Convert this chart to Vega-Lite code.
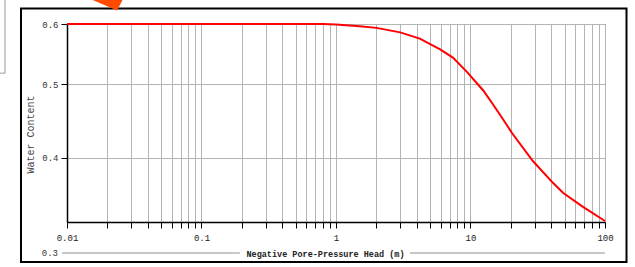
{
  "$schema": "https://vega.github.io/schema/vega-lite/v6.json",
  "width": 538,
  "height": 198,
  "autosize": "none",
  "padding": {"left": 67, "top": 24, "right": 30, "bottom": 45},
  "background": "white",
  "config": {
    "view": {"stroke": "#808080", "strokeWidth": 1},
    "font": "Liberation Mono"
  },
  "datasets": {
    "curve": [
      {"h": 0.01, "wc": 0.6},
      {"h": 0.8, "wc": 0.6},
      {"h": 1.0, "wc": 0.599},
      {"h": 1.5, "wc": 0.596},
      {"h": 2.0, "wc": 0.593},
      {"h": 3.0, "wc": 0.585},
      {"h": 4.2, "wc": 0.574},
      {"h": 5.9, "wc": 0.556},
      {"h": 7.4, "wc": 0.542},
      {"h": 9.4, "wc": 0.519},
      {"h": 12.4, "wc": 0.491},
      {"h": 14.5, "wc": 0.472},
      {"h": 17.4, "wc": 0.450},
      {"h": 20.4, "wc": 0.431},
      {"h": 29.2, "wc": 0.396},
      {"h": 41.0, "wc": 0.371},
      {"h": 48.7, "wc": 0.360},
      {"h": 68.6, "wc": 0.345},
      {"h": 100, "wc": 0.3305}
    ],
    "seg03": [
      {"h": 0.0092, "h2": 0.193, "wc": 0.3},
      {"h": 3.55, "h2": 100, "wc": 0.3}
    ],
    "lbl03": [{"h": 0.01, "wc": 0.3, "t": "0.3"}],
    "frame": [{"h": 0.00455, "h2": 144.5, "wc": 0.6288, "wc2": 0.292}],
    "arrow": [{"h": 0.0209, "wc": 0.6374}],
    "boxv": [{"h": 0.00346, "wc": 0.517, "wc2": 0.66}],
    "boxh": [{"h": 0.0025, "h2": 0.00346, "wc": 0.517}]
  },
  "encoding": {
    "x": {
      "field": "h",
      "type": "quantitative",
      "scale": {"type": "log", "domain": [0.01, 100], "nice": false},
      "axis": {
        "values": [0.01,0.02,0.03,0.04,0.05,0.06,0.07,0.08,0.09,0.1,0.2,0.3,0.4,0.5,0.6,0.7,0.8,0.9,1,2,3,4,5,6,7,8,9,10,20,30,40,50,60,70,80,90,100],
        "labelExpr": "indexof([0.01,0.1,1,10,100], datum.value) >= 0 ? format(datum.value, '~g') : ''",
        "labelOverlap": false,
        "labelFlush": false,
        "labelFont": "Liberation Mono",
        "labelFontSize": 9,
        "labelColor": "#222",
        "labelPadding": 5,
        "grid": true,
        "gridColor": "#b4b4b4",
        "gridWidth": 1,
        "domainColor": "#000000",
        "domainWidth": 1.5,
        "tickColor": "#000000",
        "tickSize": 6,
        "title": "Negative Pore-Pressure Head (m)",
        "titleFont": "Liberation Mono",
        "titleFontSize": 8.5,
        "titleFontWeight": "bold",
        "titleColor": "#222",
        "titleX": 258,
        "titleY": 27
      }
    },
    "y": {
      "field": "wc",
      "type": "quantitative",
      "scale": {"type": "log", "domain": [0.3295, 0.6], "nice": false, "zero": false},
      "axis": {
        "values": [0.4, 0.5, 0.6],
        "format": ".1f",
        "labelFont": "Liberation Mono",
        "labelFontSize": 9,
        "labelColor": "#333",
        "labelPadding": 3,
        "grid": true,
        "gridColor": "#b4b4b4",
        "domainColor": "#000000",
        "domainWidth": 1.5,
        "tickColor": "#000000",
        "tickSize": 6,
        "title": "Water Content",
        "titleFont": "Liberation Mono",
        "titleFontSize": 10,
        "titleFontWeight": "normal",
        "titleColor": "#444",
        "titleX": -32,
        "titleY": 110
      }
    }
  },
  "layer": [
    {
      "data": {"name": "curve"},
      "mark": {"type": "line", "color": "#ff0000", "strokeWidth": 2, "clip": false}
    },
    {
      "data": {"name": "seg03"},
      "mark": {"type": "rule", "color": "#b4b4b4", "strokeWidth": 1.5, "clip": false},
      "encoding": {"x2": {"field": "h2"}}
    },
    {
      "data": {"name": "lbl03"},
      "mark": {"type": "text", "align": "right", "baseline": "middle", "dx": -9, "font": "Liberation Mono", "fontSize": 9, "color": "#333", "clip": false},
      "encoding": {"text": {"field": "t"}}
    },
    {
      "data": {"name": "frame"},
      "mark": {"type": "rect", "fillOpacity": 0, "stroke": "#000000", "strokeWidth": 2, "clip": false},
      "encoding": {"x2": {"field": "h2"}, "y2": {"field": "wc2"}}
    },
    {
      "data": {"name": "arrow"},
      "mark": {"type": "point", "shape": "M -1.93 -0.6 L 1.0 -0.6 L 0.47 0.43 Z", "size": 900, "filled": true, "color": "#ff4a00", "opacity": 1, "clip": false}
    },
    {
      "data": {"name": "boxv"},
      "mark": {"type": "rule", "color": "#999999", "strokeWidth": 1, "clip": false},
      "encoding": {"y2": {"field": "wc2"}}
    },
    {
      "data": {"name": "boxh"},
      "mark": {"type": "rule", "color": "#999999", "strokeWidth": 1, "clip": false},
      "encoding": {"x2": {"field": "h2"}}
    }
  ]
}
